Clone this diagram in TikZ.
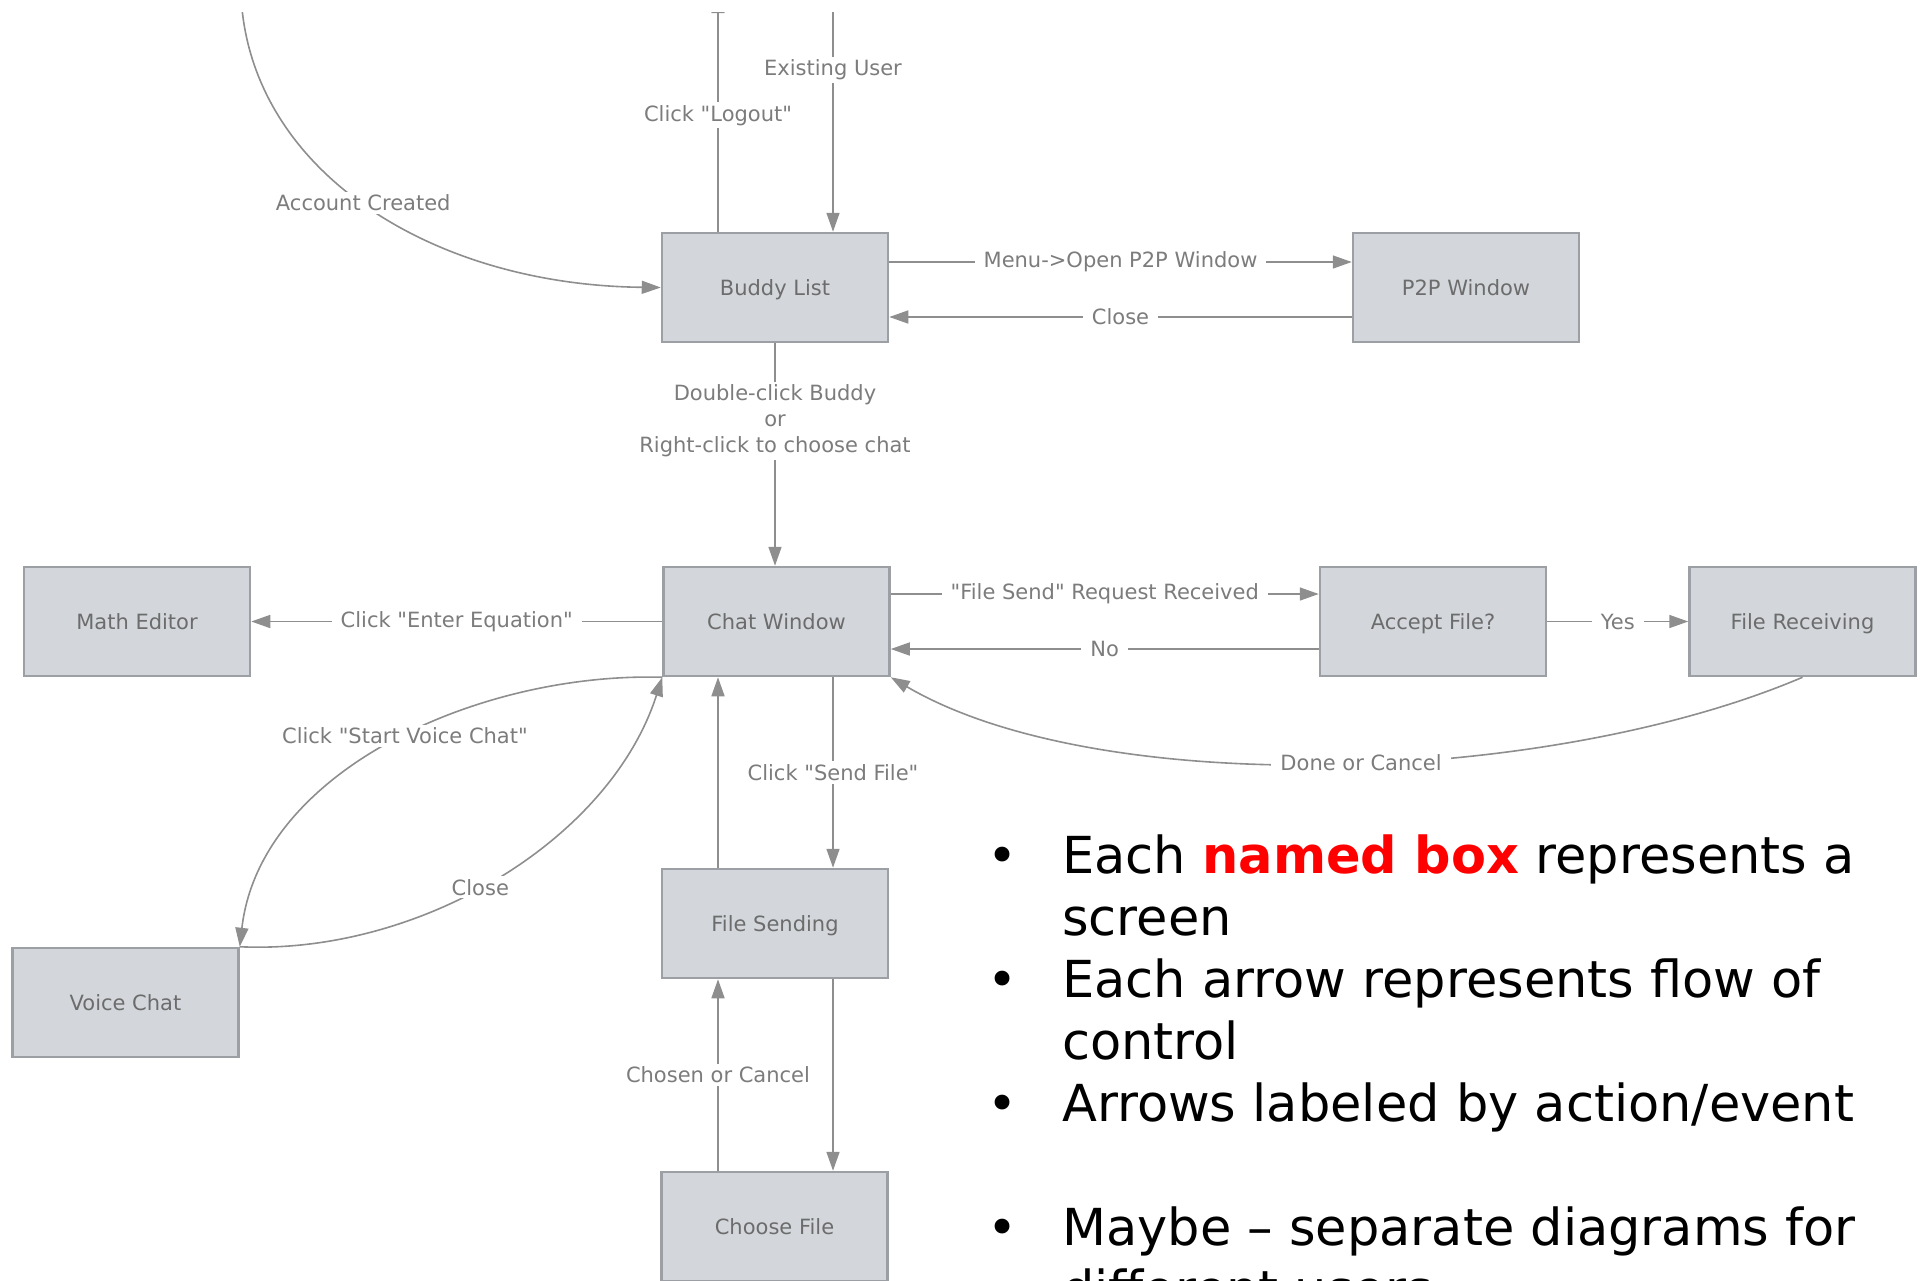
\documentclass[tikz,border=0pt]{standalone}
\usepackage{fontspec}
\setmainfont{DejaVu Sans}
\usetikzlibrary{arrows.meta}
\definecolor{boxfill}{HTML}{D3D7DB}
\definecolor{boxline}{HTML}{9C9FA3}
\definecolor{linegray}{HTML}{8E8E8E}
\definecolor{lbltext}{HTML}{7C7C7C}
\definecolor{boxtext}{HTML}{6C6C6C}
\definecolor{hlred}{HTML}{FF0000}
\newcommand\qq{\textquotedbl}
\begin{document}
\begin{tikzpicture}[x=1pt,y=-1pt,
 screen/.style={draw=boxline, fill=boxfill, line width=2.5pt, minimum width=226pt, minimum height=109pt, inner sep=0pt, text=boxtext, font=\fontsize{21}{26}\selectfont, text height=15pt, text depth=0pt},
 conn/.style={draw=linegray, line width=1.6pt},
 arr/.style={conn, -{Triangle[length=19pt,width=13pt]}},
 lbl/.style={fill=white, text=lbltext, font=\fontsize{21}{26}\selectfont, inner xsep=9pt, inner ysep=3pt, align=center},
 bul/.style={anchor=base, font=\fontsize{51}{62}\selectfont, inner sep=0pt},
 btxt/.style={anchor=base west, font=\fontsize{51}{62}\selectfont, inner sep=0pt}]
\useasboundingbox (0,0) rectangle (1926,1280);
\begin{scope}
\clip (0,12) rectangle (1926,1290);
% screens
\node[screen] (buddy)  at (775,287.5)   {Buddy List};
\node[screen] (p2p)    at (1466,287.5)  {P2P Window};
\node[screen] (chat)   at (776.5,621.5) {Chat Window};
\node[screen] (math)   at (137,621.5)   {Math Editor};
\node[screen] (accept) at (1433,621.5)  {Accept File?};
\node[screen] (recv)   at (1802.5,621.5){File Receiving};
\node[screen] (voice)  at (125.5,1002.5){Voice Chat};
\node[screen] (send)   at (775,923.5)   {File Sending};
\node[screen] (choose) at (774.5,1226.5){Choose File};
% free ends above the picture
\coordinate (logoutend) at (718,-6);
\coordinate (existstart) at (833,-6);
\coordinate (acstart) at (241,-4);
% connectors
\draw[arr] ([xshift=-57pt]buddy.north) -- (logoutend) node[lbl,pos=0.49] (l1) {Click \qq Logout\qq};
\draw[arr] (existstart) -- ([xshift=58pt]buddy.north) node[lbl,pos=0.32] (l2) {Existing User};
\draw[arr] (acstart) .. controls (250,170) and (430,285) .. (buddy.west) node[lbl,pos=0.49] (l3) {Account Created};
\draw[arr] ([yshift=25.5pt]buddy.east) -- ([yshift=25.5pt]p2p.west) node[lbl,midway] (l4) {Menu->Open P2P Window};
\draw[arr] ([yshift=-29.5pt]p2p.west) -- ([yshift=-29.5pt]buddy.east) node[lbl,midway] (l5) {Close};
\draw[arr] (buddy.south) -- ([xshift=-1.5pt]chat.north) node[lbl,pos=0.35] (l6) {Double-click Buddy\\or\\Right-click to choose chat};
\draw[arr] (chat.west) -- (math.east) node[lbl,midway] (l7) {Click \qq Enter Equation\qq};
\draw[arr] ([yshift=27.5pt]chat.east) -- ([yshift=27.5pt]accept.west) node[lbl,midway] (l8) {\qq File Send\qq\ Request Received};
\draw[arr] ([yshift=-27.5pt]accept.west) -- ([yshift=-27.5pt]chat.east) node[lbl,midway] (l9) {No};
\draw[arr] (accept.east) -- (recv.west) node[lbl,midway] (l10) {Yes};
\draw[arr] (recv.south) .. controls (1550,785) and (1100,800) .. (chat.south east) node[lbl,pos=0.47] (l11) {Done or Cancel};
\draw[arr] (chat.south west) .. controls (480,672) and (260,770) .. (voice.north east) node[lbl,pos=0.47] (l12) {Click \qq Start Voice Chat\qq};
\draw[arr] (voice.north east) .. controls (420,955) and (610,840) .. (chat.south west) node[lbl,pos=0.46] (l13) {Close};
\draw[arr] ([xshift=56.5pt]chat.south) -- ([xshift=58pt]send.north) node[lbl,midway] (l14) {Click \qq Send File\qq};
\draw[arr] ([xshift=-57pt]send.north) -- ([xshift=-58.5pt]chat.south);
\draw[arr] ([xshift=58pt]send.south) -- ([xshift=58.5pt]choose.north);
\draw[arr] ([xshift=-56.5pt]choose.north) -- ([xshift=-57pt]send.south) node[lbl,midway] (l15) {Chosen or Cancel};
\end{scope}
% bullet list
\node[bul] (b1) at (1003,873) {•};
\node[btxt] (t1a) at (1062,873) {Each {\bfseries\color{hlred}named box} represents a};
\node[btxt] (t1b) at (1062,935) {screen};
\node[bul] (b2) at (1003,997) {•};
\node[btxt] (t2a) at (1062,997) {Each arrow represents flow of};
\node[btxt] (t2b) at (1062,1059) {control};
\node[bul] (b3) at (1003,1121) {•};
\node[btxt] (t3a) at (1062,1121) {Arrows labeled by action/event};
\node[bul] (b4) at (1003,1245) {•};
\node[btxt] (t4a) at (1062,1245) {Maybe – separate diagrams for};
\node[btxt] (t4b) at (1062,1307) {different users};
\end{tikzpicture}
\end{document}
